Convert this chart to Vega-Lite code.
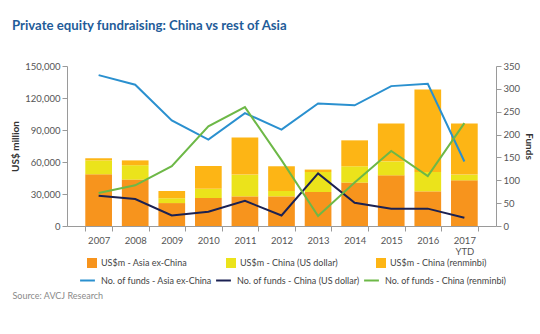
{
  "$schema": "https://vega.github.io/schema/vega-lite/v6.json",
  "autosize": "none",
  "width": 429,
  "height": 160,
  "padding": {"left": 67, "top": 66, "right": 44, "bottom": 108},
  "background": "white",
  "config": {
    "font": "Lato",
    "view": {"stroke": null},
    "axis": {"grid": false, "domainColor": "#9a9a9a", "tickColor": "#9a9a9a", "labelColor": "#555555", "labelFontSize": 9.5, "titleColor": "#333333", "titleFontSize": 10, "titleFontWeight": "bold", "labelFont": "Lato", "titleFont": "Lato"},
    "legend": {"labelColor": "#444444", "labelFontSize": 9, "labelFont": "Lato"}
  },
  "title": {
    "text": "Private equity fundraising: China vs rest of Asia",
    "anchor": "start",
    "frame": "group",
    "dx": -55,
    "offset": 28,
    "font": "Lato",
    "fontSize": 13.2,
    "fontWeight": "bold",
    "color": "#1F5C99"
  },
  "datasets": {
    "bars": [
      {"year": "2007", "series": "US$m - Asia ex-China", "k": 1, "v": 48500},
      {"year": "2007", "series": "US$m - China (US dollar)", "k": 2, "v": 13000},
      {"year": "2007", "series": "US$m - China (renminbi)", "k": 3, "v": 2000},
      {"year": "2008", "series": "US$m - Asia ex-China", "k": 1, "v": 43500},
      {"year": "2008", "series": "US$m - China (US dollar)", "k": 2, "v": 13500},
      {"year": "2008", "series": "US$m - China (renminbi)", "k": 3, "v": 4500},
      {"year": "2009", "series": "US$m - Asia ex-China", "k": 1, "v": 21500},
      {"year": "2009", "series": "US$m - China (US dollar)", "k": 2, "v": 4500},
      {"year": "2009", "series": "US$m - China (renminbi)", "k": 3, "v": 6800},
      {"year": "2010", "series": "US$m - Asia ex-China", "k": 1, "v": 26250},
      {"year": "2010", "series": "US$m - China (US dollar)", "k": 2, "v": 8700},
      {"year": "2010", "series": "US$m - China (renminbi)", "k": 3, "v": 21300},
      {"year": "2011", "series": "US$m - Asia ex-China", "k": 1, "v": 27800},
      {"year": "2011", "series": "US$m - China (US dollar)", "k": 2, "v": 20400},
      {"year": "2011", "series": "US$m - China (renminbi)", "k": 3, "v": 34700},
      {"year": "2012", "series": "US$m - Asia ex-China", "k": 1, "v": 27800},
      {"year": "2012", "series": "US$m - China (US dollar)", "k": 2, "v": 5000},
      {"year": "2012", "series": "US$m - China (renminbi)", "k": 3, "v": 23200},
      {"year": "2013", "series": "US$m - Asia ex-China", "k": 1, "v": 31900},
      {"year": "2013", "series": "US$m - China (US dollar)", "k": 2, "v": 18700},
      {"year": "2013", "series": "US$m - China (renminbi)", "k": 3, "v": 2300},
      {"year": "2014", "series": "US$m - Asia ex-China", "k": 1, "v": 40700},
      {"year": "2014", "series": "US$m - China (US dollar)", "k": 2, "v": 15300},
      {"year": "2014", "series": "US$m - China (renminbi)", "k": 3, "v": 24300},
      {"year": "2015", "series": "US$m - Asia ex-China", "k": 1, "v": 47500},
      {"year": "2015", "series": "US$m - China (US dollar)", "k": 2, "v": 13100},
      {"year": "2015", "series": "US$m - China (renminbi)", "k": 3, "v": 35400},
      {"year": "2016", "series": "US$m - Asia ex-China", "k": 1, "v": 32500},
      {"year": "2016", "series": "US$m - China (US dollar)", "k": 2, "v": 18100},
      {"year": "2016", "series": "US$m - China (renminbi)", "k": 3, "v": 77300},
      {"year": "2017 YTD", "series": "US$m - Asia ex-China", "k": 1, "v": 42800},
      {"year": "2017 YTD", "series": "US$m - China (US dollar)", "k": 2, "v": 5400},
      {"year": "2017 YTD", "series": "US$m - China (renminbi)", "k": 3, "v": 47800}
    ],
    "lines": [
      {"year": "2007", "series": "No. of funds - Asia ex-China", "funds": 330},
      {"year": "2008", "series": "No. of funds - Asia ex-China", "funds": 309},
      {"year": "2009", "series": "No. of funds - Asia ex-China", "funds": 231},
      {"year": "2010", "series": "No. of funds - Asia ex-China", "funds": 189},
      {"year": "2011", "series": "No. of funds - Asia ex-China", "funds": 247},
      {"year": "2012", "series": "No. of funds - Asia ex-China", "funds": 211},
      {"year": "2013", "series": "No. of funds - Asia ex-China", "funds": 268},
      {"year": "2014", "series": "No. of funds - Asia ex-China", "funds": 264},
      {"year": "2015", "series": "No. of funds - Asia ex-China", "funds": 306},
      {"year": "2016", "series": "No. of funds - Asia ex-China", "funds": 311},
      {"year": "2017 YTD", "series": "No. of funds - Asia ex-China", "funds": 141},
      {"year": "2007", "series": "No. of funds - China (US dollar)", "funds": 66},
      {"year": "2008", "series": "No. of funds - China (US dollar)", "funds": 59},
      {"year": "2009", "series": "No. of funds - China (US dollar)", "funds": 23},
      {"year": "2010", "series": "No. of funds - China (US dollar)", "funds": 31},
      {"year": "2011", "series": "No. of funds - China (US dollar)", "funds": 55},
      {"year": "2012", "series": "No. of funds - China (US dollar)", "funds": 23},
      {"year": "2013", "series": "No. of funds - China (US dollar)", "funds": 115},
      {"year": "2014", "series": "No. of funds - China (US dollar)", "funds": 51},
      {"year": "2015", "series": "No. of funds - China (US dollar)", "funds": 38},
      {"year": "2016", "series": "No. of funds - China (US dollar)", "funds": 38},
      {"year": "2017 YTD", "series": "No. of funds - China (US dollar)", "funds": 18},
      {"year": "2007", "series": "No. of funds - China (renminbi)", "funds": 72},
      {"year": "2008", "series": "No. of funds - China (renminbi)", "funds": 89},
      {"year": "2009", "series": "No. of funds - China (renminbi)", "funds": 131},
      {"year": "2010", "series": "No. of funds - China (renminbi)", "funds": 218},
      {"year": "2011", "series": "No. of funds - China (renminbi)", "funds": 260},
      {"year": "2012", "series": "No. of funds - China (renminbi)", "funds": 144},
      {"year": "2013", "series": "No. of funds - China (renminbi)", "funds": 22},
      {"year": "2014", "series": "No. of funds - China (renminbi)", "funds": 95},
      {"year": "2015", "series": "No. of funds - China (renminbi)", "funds": 164},
      {"year": "2016", "series": "No. of funds - China (renminbi)", "funds": 109},
      {"year": "2017 YTD", "series": "No. of funds - China (renminbi)", "funds": 225}
    ]
  },
  "encoding": {
    "x": {
      "field": "year",
      "type": "nominal",
      "sort": null,
      "scale": {"paddingInner": 0.27, "paddingOuter": 0.5},
      "axis": {
        "title": "Source: AVCJ Research",
        "titleAnchor": "start",
        "titleAlign": "left",
        "titleBaseline": "alphabetic",
        "titleX": -55,
        "titleY": 72,
        "titleFontWeight": "normal",
        "titleColor": "#8a8a8a",
        "titleFontSize": 9,
        "labelAngle": 0,
        "tickBand": "extent",
        "tickSize": 5,
        "labelPadding": 4,
        "labelExpr": "datum.value == '2017 YTD' ? ['2017', 'YTD'] : datum.value"
      }
    }
  },
  "layer": [
    {
      "data": {"name": "bars"},
      "mark": {"type": "bar"},
      "encoding": {
        "y": {
          "field": "v",
          "type": "quantitative",
          "stack": "zero",
          "scale": {"domain": [0, 150000], "nice": false},
          "axis": {"title": "US$ million", "values": [0, 30000, 60000, 90000, 120000, 150000], "format": ",.0f", "tickSize": 5, "titlePadding": 4}
        },
        "fill": {
          "field": "series",
          "type": "nominal",
          "scale": {
            "domain": ["US$m - Asia ex-China", "US$m - China (US dollar)", "US$m - China (renminbi)"],
            "range": ["#F7941D", "#EBE31B", "#FDB515"]
          },
          "legend": {
            "title": null,
            "orient": "none",
            "direction": "horizontal",
            "columns": 3,
            "gridAlign": "none",
            "legendX": 20,
            "legendY": 192,
            "symbolType": "square",
            "symbolSize": 100,
            "symbolStrokeWidth": 0,
            "symbolOpacity": 1,
            "labelOffset": 4,
            "columnPadding": 38
          }
        },
        "order": {"field": "k", "type": "quantitative"}
      }
    },
    {
      "data": {"name": "lines"},
      "mark": {"type": "line", "strokeWidth": 2},
      "encoding": {
        "y": {
          "field": "funds",
          "type": "quantitative",
          "scale": {"domain": [0, 350], "nice": false},
          "axis": {"title": "Funds", "orient": "right", "values": [0, 50, 100, 150, 200, 250, 300, 350], "tickSize": 5, "titlePadding": 4}
        },
        "stroke": {
          "field": "series",
          "type": "nominal",
          "scale": {
            "domain": ["No. of funds - Asia ex-China", "No. of funds - China (US dollar)", "No. of funds - China (renminbi)"],
            "range": ["#2A90CF", "#1B2152", "#6DB847"]
          },
          "legend": {
            "title": null,
            "orient": "none",
            "direction": "horizontal",
            "columns": 3,
            "gridAlign": "none",
            "legendX": 12,
            "legendY": 206,
            "symbolType": "stroke",
            "symbolSize": 220,
            "symbolStrokeWidth": 2,
            "labelOffset": 5,
            "columnPadding": 0
          }
        }
      }
    }
  ],
  "resolve": {"scale": {"y": "independent"}}
}
